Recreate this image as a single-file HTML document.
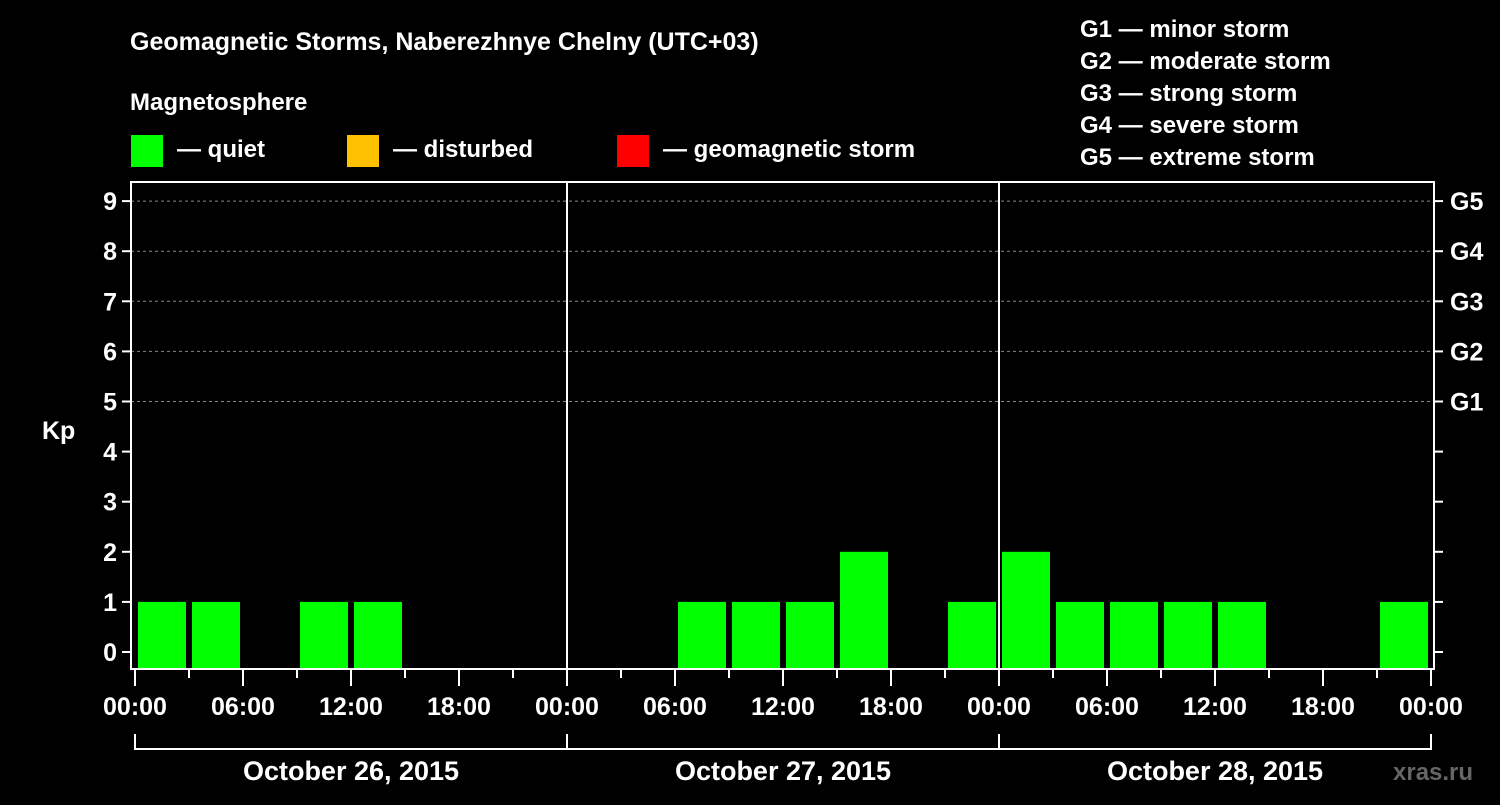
<!DOCTYPE html>
<html><head><meta charset="utf-8"><style>
body{margin:0;background:#000;width:1500px;height:800px;overflow:hidden}
svg text{font-family:"Liberation Sans",sans-serif;font-weight:bold;fill:#fff}
</style></head><body>
<svg id="c" width="1500" height="800">
<text x="130" y="50" font-size="25">Geomagnetic Storms, Naberezhnye Chelny (UTC+03)</text>
<text x="130" y="110" font-size="24">Magnetosphere</text>
<g><rect x="131" y="135" width="32" height="32" fill="#00ff00"/><text x="177" y="157" font-size="24">— quiet</text></g>
<g><rect x="347" y="135" width="32" height="32" fill="#ffc000"/><text x="393" y="157" font-size="24">— disturbed</text></g>
<g><rect x="617" y="135" width="32" height="32" fill="#ff0000"/><text x="663" y="157" font-size="24">— geomagnetic storm</text></g>
<g font-size="24">
<text x="1080" y="37">G1 — minor storm</text><text x="1080" y="69">G2 — moderate storm</text><text x="1080" y="101">G3 — strong storm</text><text x="1080" y="133">G4 — severe storm</text><text x="1080" y="165">G5 — extreme storm</text></g>
<text x="42" y="439" font-size="25">Kp</text>
<text x="1393" y="780" font-size="24" fill="#555" style="fill:#666">xras.ru</text>
<g id="g"></g>
</svg>
<script>
const kpValues=[1,1,0,1,1,0,0,0, 0,0,1,1,1,2,0,1, 2,1,1,1,1,0,0,1];
const dayLabels=["October 26, 2015","October 27, 2015","October 28, 2015"];
const hourLabels=["00:00","06:00","12:00","18:00"];
const stormLabels=["G1","G2","G3","G4","G5"];
const ns="http://www.w3.org/2000/svg",g=document.getElementById('g');
const X0=135,DAY=432,SLOT=54,Y0=652,UNIT=50.1,BOT=669,TOP=182,L=131,R=1434;
const x=h=>X0+h/24*DAY, y=v=>Y0-v*UNIT;
function el(t,a,p){const e=document.createElementNS(ns,t);for(const k in a)e.setAttribute(k,a[k]);(p||g).appendChild(e);return e;}
// grid
for(let v=5;v<=9;v++){const l=el('line',{x1:L,x2:R,y1:y(v),y2:y(v),stroke:'#888','stroke-dasharray':'3,3','stroke-width':1});

}
// bars
kpValues.forEach((v,i)=>{if(v<=0)return;
const col=v>=5?'#ff0000':v>=4?'#ffc000':'#00ff00';
const r=el('rect',{x:x(i*3)+3,y:y(v),width:SLOT-6,height:BOT-y(v),fill:col});

});
// frame
el('rect',{x:L,y:TOP,width:R-L,height:BOT-TOP,fill:'none',stroke:'#fff','stroke-width':2});
for(let d=1;d<3;d++)el('line',{x1:x(d*24),x2:x(d*24),y1:TOP,y2:BOT,stroke:'#fff','stroke-width':2});
// y ticks
for(let v=0;v<=9;v++){
el('line',{x1:L-9,x2:L,y1:y(v),y2:y(v),stroke:'#fff','stroke-width':2});
el('line',{x1:R,x2:R+9,y1:y(v),y2:y(v),stroke:'#fff','stroke-width':2});
const t=el('text',{x:L-14,y:y(v)+9,'font-size':25,'text-anchor':'end'});t.textContent=v;

}
stormLabels.forEach((s,i)=>{const t=el('text',{x:R+16,y:y(5+i)+9,'font-size':25});t.textContent=s;

});
// x ticks
for(let h=0;h<=72;h+=3){const maj=h%6==0;
el('line',{x1:x(h),x2:x(h),y1:BOT,y2:BOT+(maj?17:9),stroke:'#fff','stroke-width':2});
if(maj){const t=el('text',{x:x(h),y:715,'font-size':25,'text-anchor':'middle'});t.textContent=hourLabels[(h%24)/6];

}}
// day brackets
dayLabels.forEach((d,i)=>{const a=x(i*24),b=x(i*24+24);
el('path',{d:`M${a},734V749H${b}V734`,fill:'none',stroke:'#fff','stroke-width':2});
const t=el('text',{x:(a+b)/2,y:780,'font-size':27,'text-anchor':'middle'});t.textContent=d;

});
</script>
</body></html>
